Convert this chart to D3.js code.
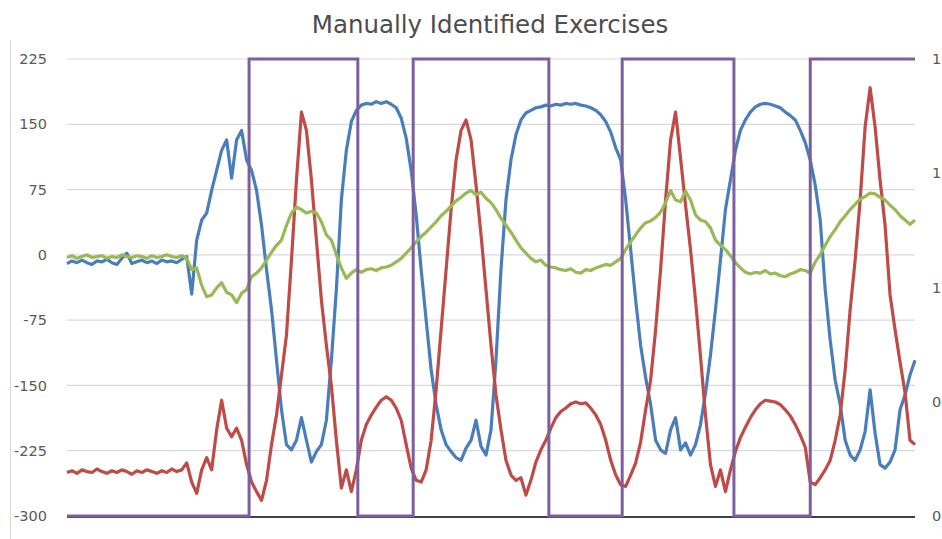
<!DOCTYPE html>
<html>
<head>
<meta charset="utf-8">
<script src="https://cdn.jsdelivr.net/npm/d3@7"></script>
<style>
  body { margin: 0; background: #fff; }
  svg { display: block; font-family: "DejaVu Sans", sans-serif; }
</style>
</head>
<body>
<svg width="942" height="539"></svg>
<script>
// sensor readings, one value per sample
const blueValues = [
  -10,-7,-9,-6,-9,-11,-7,-8,-5,-9,-11,-4,2,-10,-8,-6,-9,-7,-10,-6,-8,-7,-9,-5,
  -2,-45,17,40,48,74,97,120,132,88,132,143,109,97,74,34,-17,-63,-121,-178,-218,-224,
  -213,-187,-213,-238,-226,-218,-190,-121,-40,63,120,153,166,172,174,173,176,174,176,173,
  169,157,134,97,46,-17,-75,-132,-172,-201,-218,-226,-233,-236,-222,-213,-190,-220,-230,-201,
  -121,-17,63,109,138,155,163,166,169,170,172,171,173,172,174,173,174,172,171,169,
  166,161,153,141,123,109,63,6,-52,-104,-141,-172,-213,-224,-228,-201,-187,-224,-216,-230,
  -218,-195,-159,-115,-63,-6,52,86,120,143,155,164,170,173,174,173,171,169,164,160,
  155,143,129,109,80,40,-40,-98,-144,-172,-213,-230,-236,-224,-203,-155,-205,-241,-245,-238,
  -224,-178,-161,-138,-121
];
const redValues = [
  -250,-248,-251,-247,-249,-250,-246,-249,-251,-248,-250,-247,-249,-252,-248,-250,-247,-249,-251,-248,-250,-246,-249,-247,
  -239,-261,-274,-247,-233,-247,-201,-167,-199,-209,-199,-213,-241,-261,-272,-282,-259,-218,-184,-138,-92,-6,
  86,164,143,86,17,-52,-104,-150,-213,-268,-247,-272,-247,-213,-195,-184,-175,-167,-163,-167,
  -176,-190,-218,-245,-259,-261,-247,-213,-155,-86,-17,52,109,143,155,132,80,23,-40,-104,
  -161,-201,-236,-253,-259,-256,-276,-259,-238,-224,-213,-199,-187,-180,-176,-171,-169,-171,-170,-176,
  -184,-195,-213,-236,-253,-264,-266,-253,-239,-215,-178,-144,-86,-17,63,132,164,111,57,6,
  -52,-117,-184,-241,-266,-247,-272,-247,-226,-210,-198,-187,-178,-171,-167,-168,-169,-172,-178,-185,
  -195,-207,-221,-261,-264,-256,-247,-236,-213,-184,-132,-63,-6,63,147,192,147,86,34,-46,
  -86,-123,-158,-213,-218
];
const greenValues = [
  -3,-1,-4,-2,0,-3,-2,-1,-4,-2,-3,0,-2,-3,-1,-2,-4,-1,-3,-2,0,-2,-3,-1,
  -4,-17,-15,-35,-48,-46,-38,-32,-43,-46,-55,-44,-40,-25,-21,-15,-6,3,11,17,34,48,
  55,52,48,50,48,38,23,17,0,-15,-27,-21,-17,-20,-17,-16,-18,-15,-14,-12,
  -8,-4,2,8,15,21,26,32,38,45,50,56,62,66,71,74,69,72,65,60,
  52,42,34,26,17,8,2,-4,-8,-6,-12,-14,-15,-17,-18,-16,-20,-21,-17,-18,
  -15,-13,-11,-12,-8,-4,6,15,23,31,37,39,43,49,60,74,63,61,73,63,
  46,40,38,31,17,11,6,-1,-9,-15,-20,-22,-20,-21,-18,-22,-21,-24,-25,-22,
  -20,-17,-18,-21,-8,0,11,21,29,38,45,52,58,64,67,71,70,66,63,57,
  52,45,40,35,40
];

// manually marked exercise windows (sample index), shown on the right axis
const exerciseStart = [36.5, 69.4, 111.3, 149];
const exerciseEnd = [58.3, 96.6, 133.7, 170];

const leftTicks = [-300, -225, -150, -75, 0, 75, 150, 225];
const rightTicks = [0, 0.25, 0.5, 0.75, 1];

const svg = d3.select("svg");
const plotLeft = 67, plotRight = 915, plotTop = 59, plotBottom = 516;

const x = d3.scaleLinear().domain([0, blueValues.length - 1]).range([plotLeft, plotRight]);
const y = d3.scaleLinear().domain([-300, 225]).range([plotBottom, plotTop]);
const y2 = d3.scaleLinear().domain([0, 1]).range([plotBottom, plotTop]);

// outer border line on the left
svg.append("line")
    .attr("x1", 10.5).attr("x2", 10.5)
    .attr("y1", 40).attr("y2", 539)
    .attr("stroke", "#d9d9d9");

svg.append("text")
    .attr("x", 490).attr("y", 33)
    .attr("text-anchor", "middle")
    .attr("font-size", 24.5)
    .attr("fill", "#4d4d4d")
    .text("Manually Identified Exercises");

// gridlines
svg.append("g")
    .selectAll("line")
    .data(leftTicks.filter(d => d !== -300))
    .enter().append("line")
    .attr("x1", plotLeft).attr("x2", plotRight)
    .attr("y1", d => y(d)).attr("y2", d => y(d))
    .attr("stroke", "#d9d9d9")
    .attr("stroke-width", 1.2);

const leftAxis = svg.append("g")
    .attr("transform", `translate(${plotLeft - 20},0)`)
    .call(d3.axisLeft(y).tickValues(leftTicks).tickSize(0).tickPadding(0)
        .tickFormat(d => String(d)));
leftAxis.select(".domain").remove();
leftAxis.selectAll("text")
    .attr("font-size", 14.5)
    .attr("font-family", "DejaVu Sans, sans-serif")
    .attr("fill", "#595959");

const rightAxis = svg.append("g")
    .attr("transform", `translate(${plotRight + 17},0)`)
    .call(d3.axisRight(y2).tickValues(rightTicks).tickSize(0).tickPadding(0)
        .tickFormat(d => String(Math.round(d))));
rightAxis.select(".domain").remove();
rightAxis.selectAll("text")
    .attr("font-size", 14.5)
    .attr("font-family", "DejaVu Sans, sans-serif")
    .attr("fill", "#595959");

// category axis line
svg.append("line")
    .attr("x1", plotLeft).attr("x2", plotRight)
    .attr("y1", plotBottom + 1).attr("y2", plotBottom + 1)
    .attr("stroke", "#404040")
    .attr("stroke-width", 2);

const line = d3.line()
    .x((d, i) => x(i))
    .y(d => y(d));

const series = [
    { values: blueValues, color: "#4a7ebb" },
    { values: redValues, color: "#be4b48" },
    { values: greenValues, color: "#98b954" }
];

svg.append("g")
    .selectAll("path")
    .data(series)
    .enter().append("path")
    .attr("d", d => line(d.values))
    .attr("fill", "none")
    .attr("stroke", d => d.color)
    .attr("stroke-width", 3.2)
    .attr("stroke-linejoin", "round");

// step line for the exercise flag
const steps = [{ t: 0, v: 0 }];
exerciseStart.forEach((s, k) => {
    steps.push({ t: s, v: 1 });
    steps.push({ t: exerciseEnd[k], v: 0 });
});
steps[steps.length - 1].v = 1;

svg.append("path")
    .attr("d", d3.line()
        .x(d => x(d.t))
        .y(d => y2(d.v))
        .curve(d3.curveStepAfter)(steps))
    .attr("fill", "none")
    .attr("stroke", "#7d5fa0")
    .attr("stroke-width", 3);
</script>
</body>
</html>
